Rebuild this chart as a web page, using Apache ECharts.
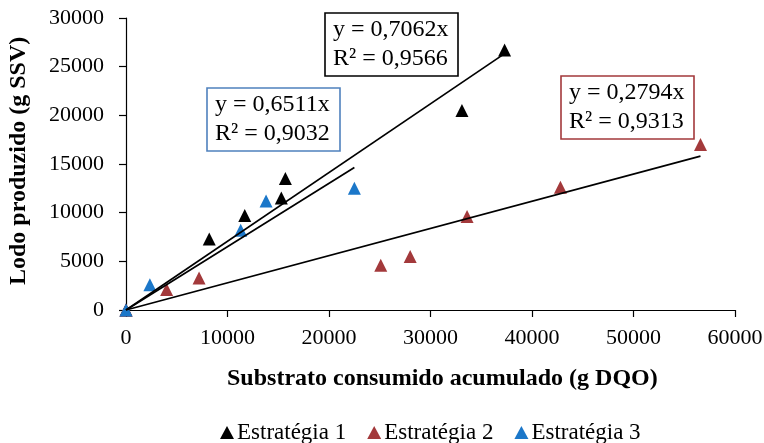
<!DOCTYPE html>
<html>
<head>
<meta charset="utf-8">
<script src="https://cdn.jsdelivr.net/npm/echarts@6/dist/echarts.min.js"></script>
<style>
html,body{margin:0;padding:0;background:#fff;}
#chart{width:764px;height:443px;}
</style>
</head>
<body>
<div id="chart"></div>
<script>
// ---- Data ----
const seriesNames = ['Estratégia 1', 'Estratégia 2', 'Estratégia 3'];
const est1X = [0, 8200, 11700, 15300, 15700, 33100, 37300];
const est1Y = [0, 7300, 9700, 11500, 13500, 20500, 26700];
const est2X = [0, 4000, 7200, 25100, 28000, 33600, 42800, 56600];
const est2Y = [0, 2100, 3300, 4600, 5500, 9600, 12600, 17000];
const est3X = [0, 2350, 11300, 13800, 22500];
const est3Y = [0, 2600, 8200, 11200, 12500];
// trendline slopes (y = a·x) and R²
const slopes = [0.7062, 0.2794, 0.6511];
const r2 = ['0,9566', '0,9313', '0,9032'];
const slopeLabels = ['0,7062', '0,2794', '0,6511'];
const xTicks = [0, 10000, 20000, 30000, 40000, 50000, 60000];
const yTicks = [0, 5000, 10000, 15000, 20000, 25000, 30000];
const xTitle = 'Substrato consumido acumulado (g DQO)';
const yTitle = 'Lodo produzido (g SSV)';

const colors = ['#000000', '#A3393B', '#1B77C9'];
const boxBorders = ['#000000', '#A3393B', '#4F81BD'];
const FONT = '"Liberation Serif", "Times New Roman", serif';

const xs = [est1X, est2X, est3X];
const ys = [est1Y, est2Y, est3Y];

const chart = echarts.init(document.getElementById('chart'), null, {renderer: 'canvas'});

const scatterSeries = seriesNames.map((n, i) => ({
  name: n,
  type: 'scatter',
  symbol: 'triangle',
  symbolSize: 13,
  itemStyle: {color: colors[i], opacity: 1},
  emphasis: {disabled: true},
  data: xs[i].map((x, k) => [x, ys[i][k]]),
  z: 2
}));

const lineSeries = slopes.map((a, i) => {
  const xMax = Math.max(...xs[i]);
  return {
    name: 'trend' + i,
    type: 'line',
    symbol: 'none',
    silent: true,
    lineStyle: {color: '#000', width: 1.7},
    data: [[0, 0], [xMax, a * xMax]],
    z: 3
  };
});

const axisCommon = {
  type: 'value',
  axisLine: {show: true, lineStyle: {color: '#000', width: 1.2}},
  axisTick: {show: true, inside: false, length: 7, lineStyle: {color: '#000', width: 1.2}},
  splitLine: {show: false},
  axisLabel: {color: '#000', fontFamily: FONT, fontSize: 22, formatter: v => String(v)}
};

chart.setOption({
  animation: false,
  backgroundColor: '#fff',
  grid: {left: 126, right: 29, top: 18, bottom: 133, outerBoundsMode: 'none'},
  xAxis: Object.assign({}, axisCommon, {
    min: xTicks[0], max: xTicks[xTicks.length - 1], interval: xTicks[1] - xTicks[0],
    axisLabel: Object.assign({}, axisCommon.axisLabel, {margin: 17})
  }),
  yAxis: Object.assign({}, axisCommon, {
    min: yTicks[0], max: yTicks[yTicks.length - 1], interval: yTicks[1] - yTicks[0],
    axisLabel: Object.assign({}, axisCommon.axisLabel, {margin: 22})
  }),
  legend: {
    data: seriesNames.map((n, i) => ({name: n, icon: 'triangle', itemStyle: {color: colors[i], opacity: 1}})),
    left: 215, top: 416,
    itemWidth: 14, itemHeight: 13, itemGap: 21,
    textStyle: {color: '#000', fontFamily: FONT, fontSize: 23, padding: [0, 0, 0, -2]}
  },
  graphic: [
    {type: 'text', left: 441 - 214, top: 367,
      style: {text: xTitle, fontFamily: FONT, fontSize: 24, fontWeight: 'bold', fill: '#000'}},
    {type: 'text', rotation: Math.PI / 2, x: 7, y: 285,
      style: {text: yTitle, fontFamily: FONT, fontSize: 24, fontWeight: 'bold', fill: '#000', textVerticalAlign: 'top'}},
    ...[[325, 13], [561, 76], [207, 88]].map((p, i) => ({
      type: 'group', x: p[0], y: p[1],
      children: [
        {type: 'rect', shape: {x: 0, y: 0, width: 133, height: 63},
          style: {fill: '#fff', stroke: boxBorders[i], lineWidth: 1.6}},
        {type: 'text', x: 8, y: 31.5,
          style: {text: 'y = ' + slopeLabels[i] + 'x\nR² = ' + r2[i], fontFamily: FONT, fontSize: 24,
            lineHeight: 29, fill: '#000', textVerticalAlign: 'middle', textAlign: 'left'}}
      ]
    }))
  ],
  series: [...scatterSeries, ...lineSeries]
});
</script>
</body>
</html>
